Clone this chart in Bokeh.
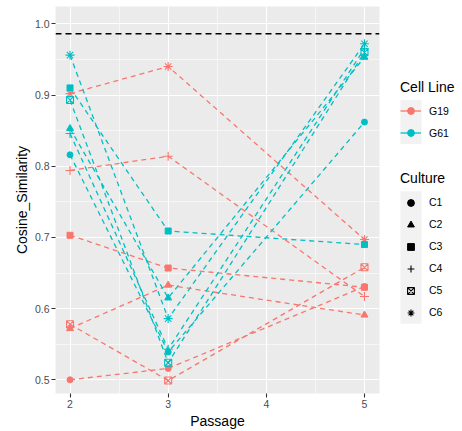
from bokeh.plotting import figure
from bokeh.layouts import row
from bokeh.models import (FixedTicker, Legend, LegendItem, Span, BoxAnnotation,
                          Range1d, NumeralTickFormatter)
from bokeh.embed import file_html
from bokeh.resources import INLINE

# ---- data ----
passage = [2, 3, 5]
cell_lines = ["G19", "G61"]
cultures = ["C1", "C2", "C3", "C4", "C5", "C6"]

g19_c1 = [0.500, 0.516, 0.631]
g19_c2 = [0.572, 0.633, 0.591]
g19_c3 = [0.703, 0.657, 0.630]
g19_c4 = [0.794, 0.814, 0.617]
g19_c5 = [0.578, 0.499, 0.658]
g19_c6 = [0.902, 0.940, 0.697]

g61_c1 = [0.816, 0.539, 0.862]
g61_c2 = [0.853, 0.615, 0.953]
g61_c3 = [0.910, 0.709, 0.690]
g61_c4 = [0.846, 0.543, 0.965]
g61_c5 = [0.893, 0.524, 0.960]
g61_c6 = [0.956, 0.586, 0.972]

reference_line = 0.986

x_ticks = [2, 3, 4, 5]
y_ticks = [0.5, 0.6, 0.7, 0.8, 0.9, 1.0]

series = {
    "G19": [g19_c1, g19_c2, g19_c3, g19_c4, g19_c5, g19_c6],
    "G61": [g61_c1, g61_c2, g61_c3, g61_c4, g61_c5, g61_c6],
}
colors = {"G19": "#F8766D", "G61": "#00BFC4"}
markers = {"C1": "circle", "C2": "triangle", "C3": "square",
           "C4": "cross", "C5": "square_x", "C6": "asterisk"}
sizes = {"C1": 6, "C2": 7, "C3": 6, "C4": 9, "C5": 7, "C6": 9}
FONT = "Liberation Sans"
OPEN = ("cross", "asterisk", "square_x")

p = figure(width=385, height=431,
           x_range=Range1d(1.852, 5.153), y_range=Range1d(0.4808, 1.0243),
           output_backend="svg", toolbar_location=None,
           min_border_left=55, min_border_right=6,
           min_border_top=6, min_border_bottom=30)
p.background_fill_color = "#EBEBEB"
p.border_fill_color = "white"
p.outline_line_color = None

p.xaxis.ticker = FixedTicker(ticks=x_ticks, minor_ticks=[2.5, 3.5, 4.5])
p.yaxis.ticker = FixedTicker(ticks=y_ticks,
                             minor_ticks=[0.55, 0.65, 0.75, 0.85, 0.95])
p.yaxis.formatter = NumeralTickFormatter(format="0.0")

for g in (p.xgrid, p.ygrid):
    g.grid_line_color = "white"
    g.grid_line_width = 1.1
    g.minor_grid_line_color = "white"
    g.minor_grid_line_width = 0.55

for ax in (p.xaxis, p.yaxis):
    ax.axis_line_color = None
    ax.major_tick_line_color = "#333333"
    ax.major_tick_line_width = 1.1
    ax.major_tick_out = 4
    ax.major_tick_in = 0
    ax.minor_tick_line_color = None
    ax.major_label_text_color = "#4D4D4D"
    ax.major_label_text_font = FONT
    ax.major_label_text_font_size = "10.5px"
    ax.major_label_standoff = 2
    ax.axis_label_text_font = FONT
    ax.axis_label_text_font_size = "14px"
    ax.axis_label_text_font_style = "normal"
    ax.axis_label_text_color = "black"
    ax.axis_label_standoff = 2

p.xaxis.axis_label = "Passage"
p.yaxis.axis_label = "Cosine_Similarity"

p.add_layout(Span(location=reference_line, dimension="width",
                  line_color="black", line_dash="6 4", line_width=1.3))

# lines
for cl in cell_lines:
    for vals in series[cl]:
        p.line(passage, vals, line_color=colors[cl], line_width=1.3,
               line_dash="5 4")

# points
for cl in cell_lines:
    for cu, vals in zip(cultures, series[cl]):
        m = markers[cu]
        if m in OPEN:
            p.scatter(passage, vals, marker=m, size=sizes[cu],
                      line_color=colors[cl], fill_color=None, line_width=1.1)
        else:
            p.scatter(passage, vals, marker=m, size=sizes[cu],
                      color=colors[cl])

# ---- legend panel (separate figure to the right) ----
lp = figure(width=77, height=431, x_range=Range1d(0, 1), y_range=Range1d(0, 1),
            x_axis_type=None, y_axis_type=None, output_backend="svg",
            toolbar_location=None, min_border=0)
lp.outline_line_color = None
lp.background_fill_color = "white"
lp.border_fill_color = "white"
lp.grid.visible = False

FB = 393   # frame bottom of the legend panel (aligned with the plot frame)
KX = 15    # key left edge within legend panel


def key_box(top_ref, bottom_ref):
    lp.add_layout(BoxAnnotation(left=KX, right=KX + 21,
                                bottom=FB - bottom_ref, top=FB - top_ref,
                                left_units="screen", right_units="screen",
                                bottom_units="screen", top_units="screen",
                                fill_color="#F2F2F2", fill_alpha=1,
                                line_color=None))


key_box(99.5, 143.5)
key_box(190.7, 323.3)

OFF = [5]  # dummy point outside the legend panel's range (only for keys)

cl_items = []
for cl in cell_lines:
    r1 = lp.line(OFF, OFF, line_color=colors[cl], line_width=1.3)
    r2 = lp.scatter(OFF, OFF, marker="circle", size=6, color=colors[cl])
    cl_items.append(LegendItem(label=cl, renderers=[r1, r2]))

cu_items = []
for cu in cultures:
    m = markers[cu]
    if m in OPEN:
        r = lp.scatter(OFF, OFF, marker=m, size=sizes[cu], line_color="black",
                       fill_color=None, line_width=1.1)
    else:
        r = lp.scatter(OFF, OFF, marker=m, size=sizes[cu], color="black")
    cu_items.append(LegendItem(label=cu, renderers=[r]))


def make_legend(title, items, loc):
    lg = Legend(title=title, items=items, location=loc)
    lg.padding = 0
    lg.margin = 0
    lg.spacing = 0
    lg.border_line_color = None
    lg.background_fill_color = None
    lg.background_fill_alpha = 0
    lg.glyph_width = 21
    lg.glyph_height = 17
    lg.label_height = 22
    lg.label_standoff = 8
    lg.label_text_font = FONT
    lg.label_text_font_size = "10.5px"
    lg.label_text_color = "black"
    lg.title_text_font = FONT
    lg.title_text_font_size = "14px"
    lg.title_text_font_style = "normal"
    lg.title_text_color = "black"
    lg.title_standoff = 5
    return lg


lp.add_layout(make_legend("Cell Line", cl_items, (KX, FB - 143.5)))
lp.add_layout(make_legend("Culture", cu_items, (KX, FB - 323.3)))

layout = row(p, lp, spacing=0)
open("out.html", "w").write(file_html(layout, INLINE))
